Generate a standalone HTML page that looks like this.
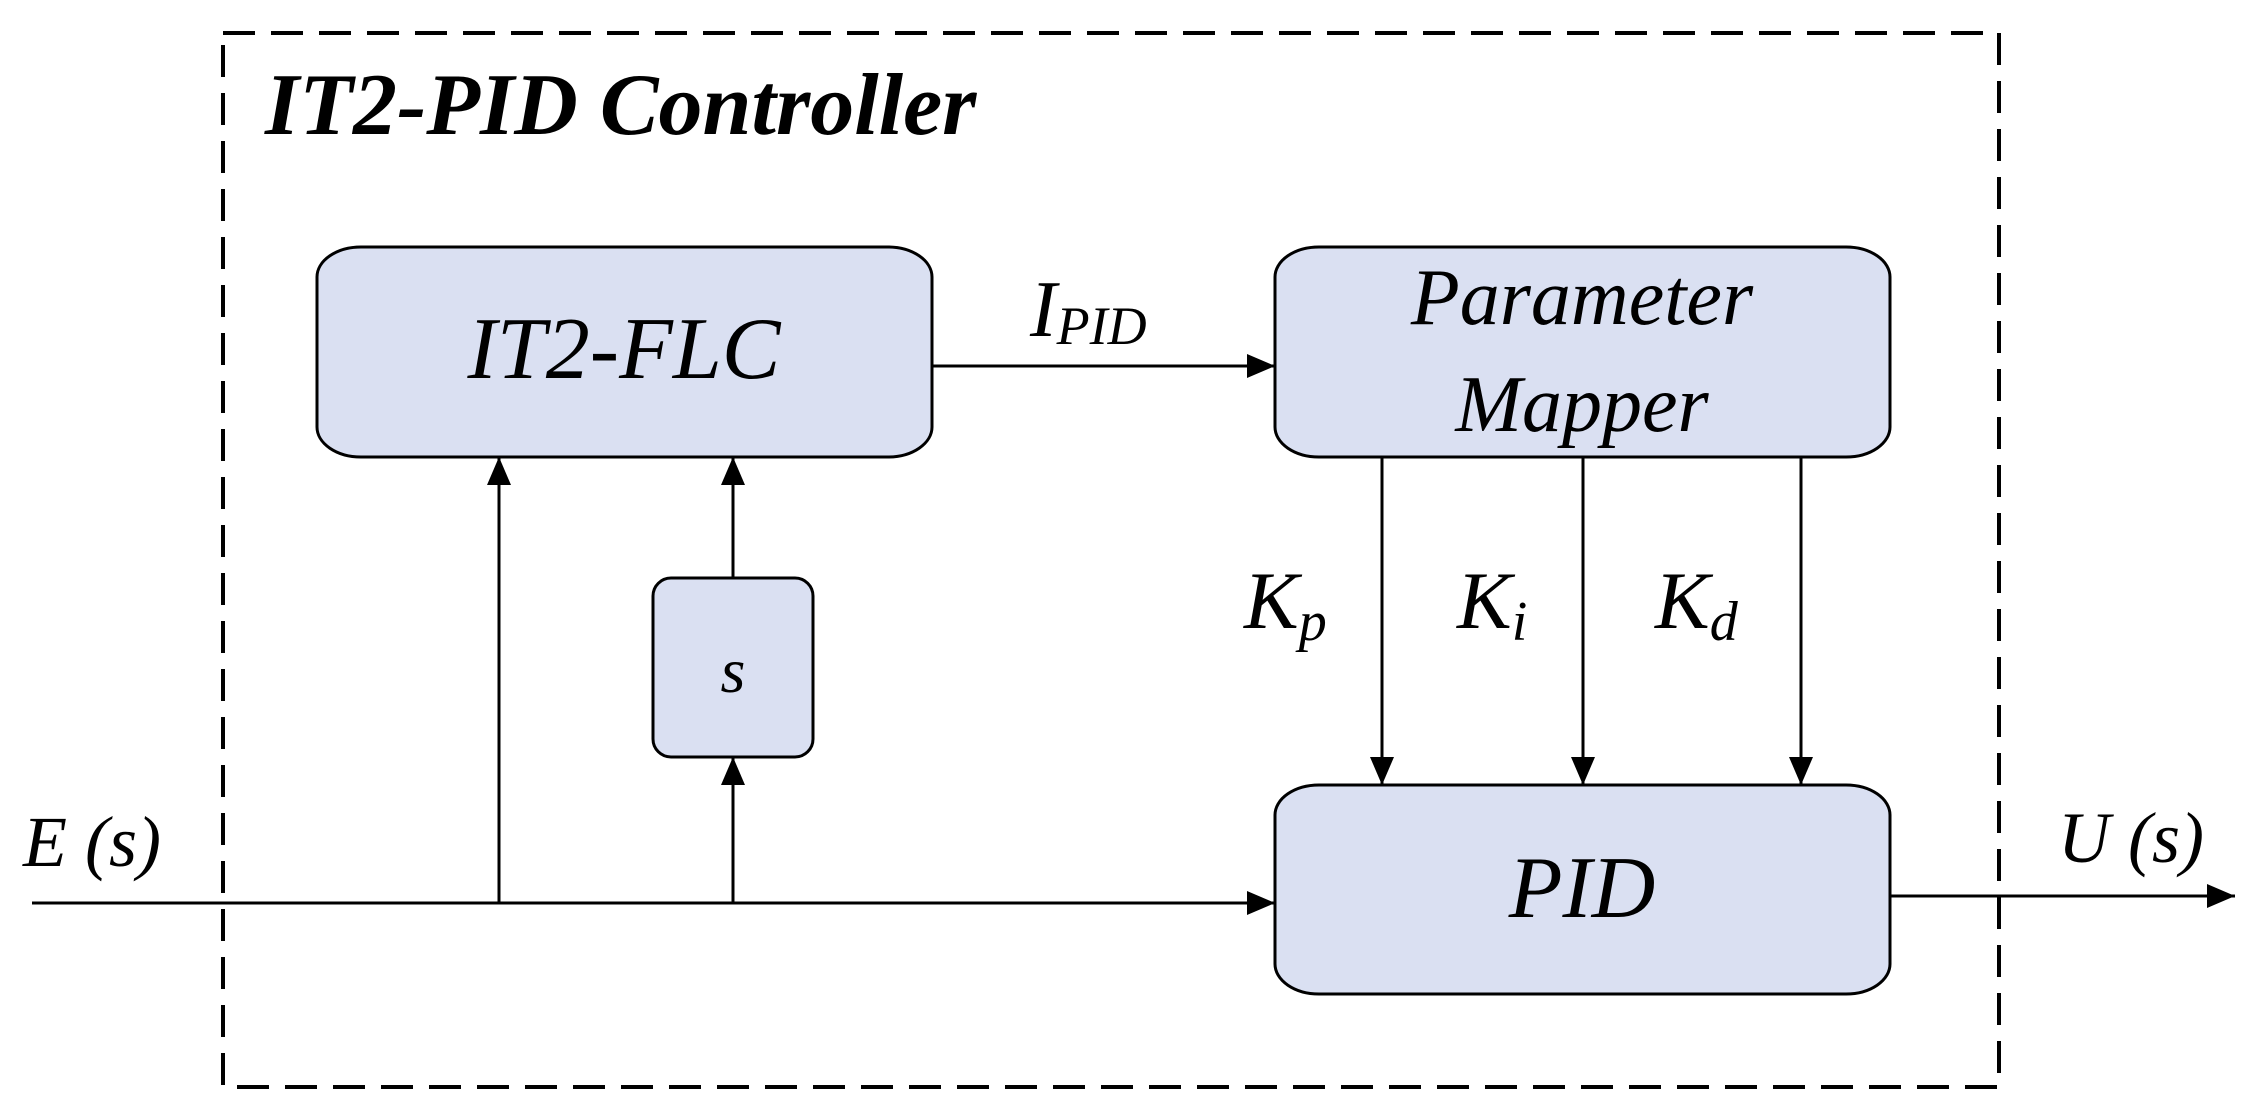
<!DOCTYPE html>
<html><head><style>html,body{margin:0;padding:0;background:#fff}svg{display:block}text{font-family:"Liberation Serif","Times New Roman","DejaVu Serif",serif;font-style:italic}</style></head>
<body>
<svg width="2259" height="1117" viewBox="0 0 2259 1117" xmlns="http://www.w3.org/2000/svg">
<defs>
<marker id="a" markerWidth="28" markerHeight="24" refX="28" refY="12" orient="auto" markerUnits="userSpaceOnUse">
<path d="M0,0 L28,12 L0,24 Z" fill="#000"/></marker>
</defs>
<rect x="223" y="33" width="1776" height="1054" fill="none" stroke="#000" stroke-width="4" stroke-dasharray="32,16"/>
<text x="265" y="134" font-size="88" font-weight="bold">IT2-PID Controller</text>

<g fill="#dae0f2" stroke="#000" stroke-width="3">
<rect x="317" y="247" width="615" height="210" rx="44" ry="30"/>
<rect x="1275" y="247" width="615" height="210" rx="44" ry="30"/>
<rect x="1275" y="785" width="615" height="209" rx="44" ry="30"/>
<rect x="653" y="578" width="160" height="179" rx="18" ry="18"/>
</g>
<text x="624" y="378" font-size="88" text-anchor="middle">IT2-FLC</text>
<text x="1582" y="324" font-size="80" text-anchor="middle">Parameter</text>
<text x="1582" y="431" font-size="80" text-anchor="middle">Mapper</text>
<text x="1582" y="917" font-size="88" text-anchor="middle">PID</text>
<text x="733" y="692" font-size="64" text-anchor="middle">s</text>

<g stroke="#000" stroke-width="3" fill="none">
<line x1="32" y1="903" x2="1275" y2="903" marker-end="url(#a)"/>
<line x1="499" y1="903" x2="499" y2="457" marker-end="url(#a)"/>
<line x1="733" y1="903" x2="733" y2="757" marker-end="url(#a)"/>
<line x1="733" y1="578" x2="733" y2="457" marker-end="url(#a)"/>
<line x1="932" y1="366" x2="1275" y2="366" marker-end="url(#a)"/>
<line x1="1382" y1="457" x2="1382" y2="785" marker-end="url(#a)"/>
<line x1="1583" y1="457" x2="1583" y2="785" marker-end="url(#a)"/>
<line x1="1801" y1="457" x2="1801" y2="785" marker-end="url(#a)"/>
<line x1="1890" y1="896" x2="2235" y2="896" marker-end="url(#a)"/>
</g>

<text x="1030" y="336" font-size="80">I<tspan font-size="54" dy="8">PID</tspan></text>
<text x="1244" y="628" font-size="82">K<tspan font-size="56" dy="12">p</tspan></text>
<text x="1457" y="628" font-size="82">K<tspan font-size="56" dy="12">i</tspan></text>
<text x="1655" y="628" font-size="82">K<tspan font-size="56" dy="12">d</tspan></text>
<text x="23" y="866" font-size="72">E (s)</text>
<text x="2058" y="862" font-size="72">U (s)</text>
</svg>
</body></html>
